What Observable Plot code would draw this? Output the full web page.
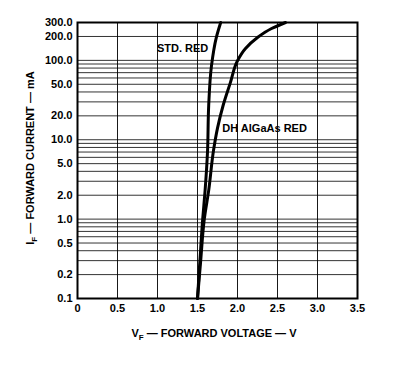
<!DOCTYPE html>
<html>
<head>
<meta charset="utf-8">
<script src="https://cdn.jsdelivr.net/npm/d3@7"></script>
<script src="https://cdn.jsdelivr.net/npm/@observablehq/plot@0.6"></script>
<style>
  html, body { margin: 0; padding: 0; background: #fff; }
  #chart svg { display: block; }
</style>
</head>
<body>
<div id="chart"></div>
<script>
// Forward voltage (V) vs forward current (mA), typical LED characteristics
const stdRedCurrent = [0.1, 0.3, 1, 2.3, 7, 27, 86, 194, 300];
const stdRedVoltage = [1.50, 1.53, 1.565, 1.595, 1.625, 1.64, 1.675, 1.735, 1.79];

const dhCurrent = [0.1, 0.3, 1, 2.3, 7.3, 14, 27, 52, 99, 141, 194, 250, 300];
const dhVoltage = [1.50, 1.54, 1.585, 1.64, 1.70, 1.75, 1.82, 1.91, 2.0, 2.1, 2.25, 2.42, 2.6];

const yTicks = [0.1, 0.2, 0.5, 1, 2, 5, 10, 20, 50, 100, 200, 300];
const xTicks = [0, 0.5, 1.0, 1.5, 2.0, 2.5, 3.0, 3.5];
const xGrid = [0.5, 1.0, 1.5, 2.0, 2.5, 3.0];
const yGrid = [0.1, 0.2, 0.3, 0.4, 0.5, 0.6, 0.7, 0.8, 0.9,
               1, 2, 3, 4, 5, 6, 7, 8, 9,
               10, 20, 30, 40, 50, 60, 70, 80, 90,
               100, 200, 300];

const stdLabel = [{name: "STD. RED", v: 1.635, i: 140}];
const dhLabel = [{name: "DH AlGaAs RED", v: 1.81, i: 14}];

const stdRed = stdRedCurrent.map((c, k) => ({i: c, v: stdRedVoltage[k]}));
const dhRed = dhCurrent.map((c, k) => ({i: c, v: dhVoltage[k]}));

const font = "'Liberation Sans', Arial, Helvetica, sans-serif";

const chart = Plot.plot({
  width: 400,
  height: 367,
  marginLeft: 77,
  marginRight: 43,
  marginTop: 22,
  marginBottom: 69,
  style: {fontFamily: font, fontWeight: "bold", fontSize: "11px", color: "#000", background: "#fff"},
  x: {domain: [0, 3.5], label: null},
  y: {type: "log", domain: [0.1, 300], label: null, axis: null},
  marks: [
    Plot.ruleY(yGrid, {stroke: "#000", strokeWidth: 1, strokeOpacity: 0.8}),
    Plot.ruleX(xGrid, {stroke: "#000", strokeWidth: 1, strokeOpacity: 0.9}),
    Plot.frame({stroke: "#000", strokeWidth: 2}),
    Plot.axisX(xTicks, {tickSize: 0, tickPadding: 6,
      tickFormat: d => d === 0 ? "0" : d.toFixed(1), fontSize: 11, label: null}),
    // current tick labels, placed through the log y scale
    Plot.text(yTicks, {y: d => d, text: d => d.toFixed(1), frameAnchor: "left",
      textAnchor: "end", dx: -5, fontSize: 11, fontWeight: "bold", fill: "#000"}),
    Plot.line(stdRed, {x: "v", y: "i", curve: "monotone-y", stroke: "#000", strokeWidth: 3}),
    Plot.line(dhRed, {x: "v", y: "i", curve: "monotone-y", stroke: "#000", strokeWidth: 3}),
    Plot.text(stdLabel, {x: "v", y: "i", text: "name", textAnchor: "end",
      fontSize: 11, fontWeight: "bold", fill: "#000"}),
    Plot.text(dhLabel, {x: "v", y: "i", text: "name", textAnchor: "start",
      fontSize: 11, fontWeight: "bold", fill: "#000"})
  ]
});

// Axis titles with subscripted F
const svg = d3.select(chart);
const yTitle = svg.append("text")
  .attr("transform", "translate(34,158) rotate(-90)")
  .attr("text-anchor", "middle")
  .attr("font-size", 11).attr("font-weight", "bold").attr("fill", "#000");
yTitle.append("tspan").text("I");
yTitle.append("tspan").attr("font-size", 8).attr("dy", 3).text("F");
yTitle.append("tspan").attr("dy", -3).text(" \u2014 FORWARD CURRENT \u2014 mA");

const xTitle = svg.append("text")
  .attr("x", 214).attr("y", 337)
  .attr("text-anchor", "middle")
  .attr("font-size", 11).attr("font-weight", "bold").attr("fill", "#000");
xTitle.append("tspan").text("V");
xTitle.append("tspan").attr("font-size", 8).attr("dy", 3).text("F");
xTitle.append("tspan").attr("dy", -3).text(" \u2014 FORWARD VOLTAGE \u2014 V");

document.getElementById("chart").append(chart);
</script>
</body>
</html>
